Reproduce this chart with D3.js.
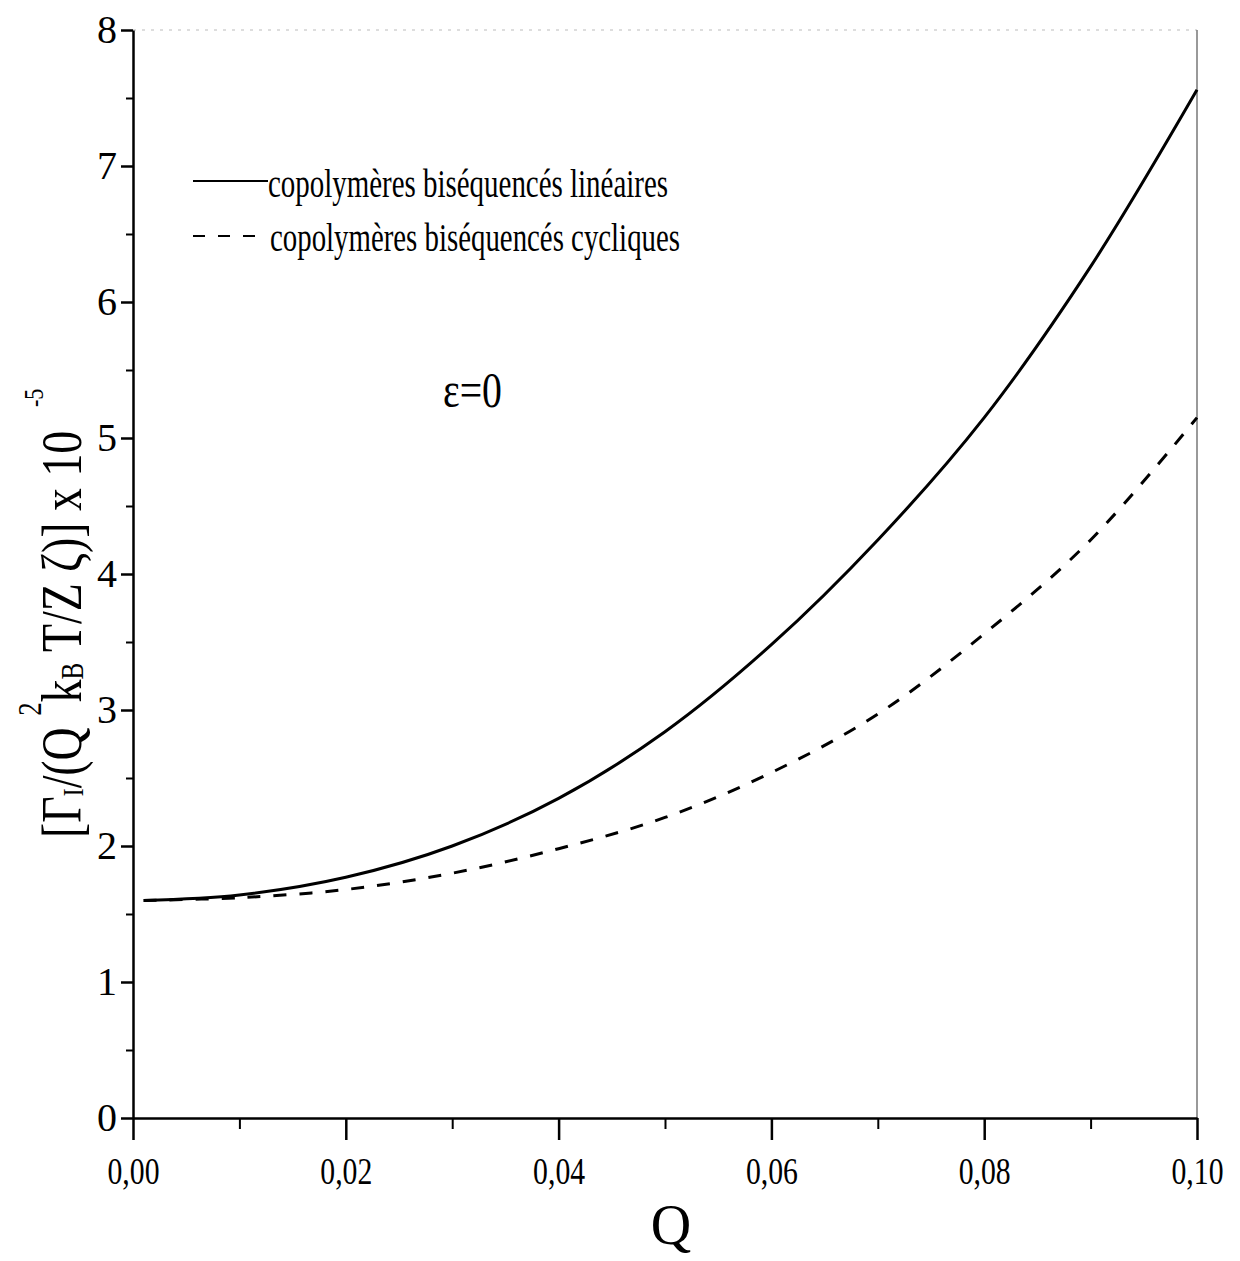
<!DOCTYPE html>
<html>
<head>
  <meta charset="utf-8">
  <title>Gamma I vs Q</title>
  <script src="https://d3js.org/d3.v7.min.js"></script>
  <style>
    body { margin: 0; background: #fff; }
    text { font-family: 'Liberation Serif', 'Times New Roman', serif; fill: #000; }
  </style>
</head>
<body>
  <div id="chart"></div>
  <script>
    // Data
    var qValues   = [0.001, 0.01, 0.02, 0.03, 0.04, 0.05, 0.06, 0.07, 0.08, 0.09, 0.10];
    var linear    = [1.60, 1.64, 1.77, 2.00, 2.35, 2.84, 3.48, 4.25, 5.15, 6.26, 7.56];
    var cyclic    = [1.60, 1.62, 1.68, 1.80, 1.98, 2.21, 2.54, 2.97, 3.56, 4.25, 5.15];
    var xTicks    = [0, 0.02, 0.04, 0.06, 0.08, 0.10];
    var yTicks    = [0, 1, 2, 3, 4, 5, 6, 7, 8];
    var legendLabels = ["copolymères biséquencés linéaires", "copolymères biséquencés cycliques"];

    var W = 1240, H = 1261;
    var margin = {top: 30, right: 43, bottom: 143, left: 133};
    var width = W - margin.left - margin.right,
        height = H - margin.top - margin.bottom;

    var svg = d3.select("#chart").append("svg")
        .attr("width", W).attr("height", H);
    var g = svg.append("g")
        .attr("transform", "translate(" + margin.left + "," + margin.top + ")");

    var x = d3.scaleLinear().domain([0, 0.10]).range([0, width]);
    var y = d3.scaleLinear().domain([0, 8]).range([height, 0]);

    var fr = d3.formatLocale({decimal: ",", thousands: " ", grouping: [3], currency: ["", ""]});
    var fmt = fr.format(".2f");

    // frame: faint top and right
    g.append("line")
      .attr("x1", 0).attr("x2", width).attr("y1", 0).attr("y2", 0)
      .attr("stroke", "#bbb").attr("stroke-width", 1.2).attr("stroke-dasharray", "3,6");
    g.append("line")
      .attr("x1", width).attr("x2", width).attr("y1", 0).attr("y2", height)
      .attr("stroke", "#777").attr("stroke-width", 1.5);

    // minor ticks
    g.append("g")
      .attr("transform", "translate(0," + height + ")")
      .call(d3.axisBottom(x).tickValues(d3.range(0.01, 0.1, 0.02)).tickSize(11).tickFormat(""))
      .call(function(a) { a.select(".domain").remove(); a.selectAll("line").attr("stroke-width", 2); });
    g.append("g")
      .call(d3.axisLeft(y).tickValues(d3.range(0.5, 8, 1)).tickSize(7).tickFormat(""))
      .call(function(a) { a.select(".domain").remove(); a.selectAll("line").attr("stroke-width", 2); });

    // major axes
    var xAxis = g.append("g")
      .attr("transform", "translate(0," + height + ")")
      .call(d3.axisBottom(x).tickValues(xTicks).tickSize(22).tickSizeOuter(0).tickPadding(12).tickFormat(fmt));
    xAxis.select(".domain").attr("stroke-width", 2.5);
    xAxis.selectAll("line").attr("stroke-width", 2.5);
    xAxis.selectAll("text")
      .attr("font-size", 38).attr("font-family", "'Liberation Serif', serif")
      .attr("dy", "0.85em")
      .attr("textLength", 52).attr("lengthAdjust", "spacingAndGlyphs");

    var yAxis = g.append("g")
      .call(d3.axisLeft(y).tickValues(yTicks).tickSize(12).tickSizeOuter(0).tickPadding(4));
    yAxis.select(".domain").attr("stroke-width", 2.5);
    yAxis.selectAll("line").attr("stroke-width", 2.5);
    yAxis.selectAll("text")
      .attr("font-size", 40).attr("font-family", "'Liberation Serif', serif");

    // curves
    var pts = function(arr) { return qValues.map(function(q, i) { return [q, arr[i]]; }); };
    var line = d3.line()
      .x(function(d) { return x(d[0]); })
      .y(function(d) { return y(d[1]); })
      .curve(d3.curveCatmullRom);

    g.append("path").datum(pts(linear))
      .attr("d", line).attr("fill", "none")
      .attr("stroke", "#000").attr("stroke-width", 3);
    g.append("path").datum(pts(cyclic))
      .attr("d", line).attr("fill", "none")
      .attr("stroke", "#000").attr("stroke-width", 3)
      .attr("stroke-dasharray", "13,13");

    // legend
    var legend = svg.append("g");
    legend.append("line")
      .attr("x1", 193).attr("x2", 268).attr("y1", 181).attr("y2", 181)
      .attr("stroke", "#000").attr("stroke-width", 2);
    legend.append("line")
      .attr("x1", 193).attr("x2", 257).attr("y1", 236).attr("y2", 236)
      .attr("stroke", "#000").attr("stroke-width", 2).attr("stroke-dasharray", "12,13");
    legend.append("text")
      .attr("x", 268).attr("y", 197).attr("font-size", 40)
      .attr("textLength", 400).attr("lengthAdjust", "spacingAndGlyphs")
      .text(legendLabels[0]);
    legend.append("text")
      .attr("x", 270).attr("y", 251).attr("font-size", 40)
      .attr("textLength", 410).attr("lengthAdjust", "spacingAndGlyphs")
      .text(legendLabels[1]);

    // annotation
    svg.append("text")
      .attr("x", 443).attr("y", 407).attr("font-size", 50)
      .attr("textLength", 59).attr("lengthAdjust", "spacingAndGlyphs")
      .text("ε=0");

    // x label
    svg.append("text")
      .attr("x", 671).attr("y", 1244).attr("text-anchor", "middle")
      .attr("font-size", 56).text("Q");

    // y label (rotated, condensed along its length)
    var yl = svg.append("text")
      .attr("transform", "translate(81,838) rotate(-90) scale(0.79,1)")
      .attr("font-size", 58);
    yl.append("tspan").text("[Γ");
    yl.append("tspan").attr("font-size", 30).attr("dy", 2).text("I");
    yl.append("tspan").attr("dy", -2).text("/(Q ");
    yl.append("tspan").attr("font-size", 34).attr("dy", -40).text("2");
    yl.append("tspan").attr("dy", 40).text("k");
    yl.append("tspan").attr("font-size", 32).attr("dy", 2).text("B");
    yl.append("tspan").attr("dy", -2).text(" T/Z ζ)] x 10");
    yl.append("tspan").attr("font-size", 28).attr("dy", -38).attr("dx", 30).text("-5");
  </script>
</body>
</html>
